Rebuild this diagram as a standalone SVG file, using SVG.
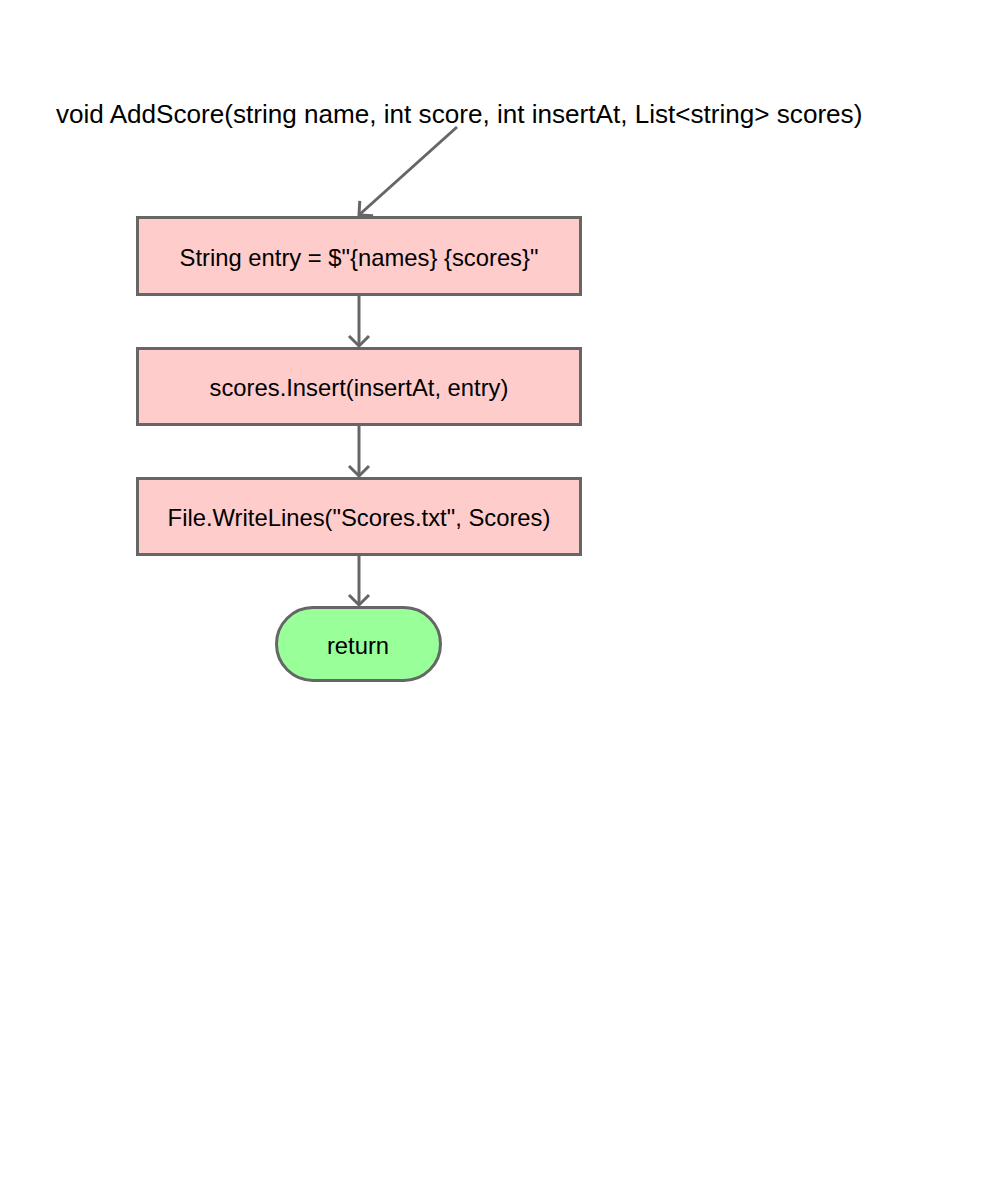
<svg xmlns="http://www.w3.org/2000/svg" width="1000" height="1200" viewBox="0 0 1000 1200">
<style>
text{font-family:"Liberation Sans",Arial,sans-serif;fill:#000}
.box{fill:#ffcccc;stroke:#666;stroke-width:3}
.term{fill:#99ff99;stroke:#666;stroke-width:3}
.lbl{font-size:23.8px;text-anchor:middle;dominant-baseline:central}
.edge{fill:none;stroke:#666;stroke-width:3;marker-end:url(#arr)}
</style>
<defs>
<marker id="arr" viewBox="0 0 24 24" refX="12" refY="12" markerWidth="24" markerHeight="24" markerUnits="userSpaceOnUse" orient="auto">
<path d="M2,2 L12,12 L2,22" fill="none" stroke="#666" stroke-width="3"/>
</marker>
</defs>
<rect width="1000" height="1200" fill="#fff"/>
<g id="title"><text x="56" y="123" font-size="26.1">void AddScore(string name, int score, int insertAt, List&lt;string&gt; scores)</text></g>
<g id="edges">
<path class="edge" d="M457,127 L359,215"/>
<path class="edge" d="M359,296 L359,346"/>
<path class="edge" d="M359,426 L359,476"/>
<path class="edge" d="M359,556 L359,605"/>
</g>
<g id="n1"><rect class="box" x="137.5" y="217.5" width="443" height="77"/><text class="lbl" x="359" y="257">String entry = $"{names} {scores}"</text></g>
<g id="n2"><rect class="box" x="137.5" y="348.5" width="443" height="76"/><text class="lbl" x="359" y="387">scores.Insert(insertAt, entry)</text></g>
<g id="n3"><rect class="box" x="137.5" y="478.5" width="443" height="76"/><text class="lbl" x="359" y="517">File.WriteLines("Scores.txt", Scores)</text></g>
<g id="n4"><rect class="term" x="276.5" y="607.5" width="164" height="73" rx="36.5" ry="36.5"/><text class="lbl" x="358" y="645">return</text></g>
</svg>
